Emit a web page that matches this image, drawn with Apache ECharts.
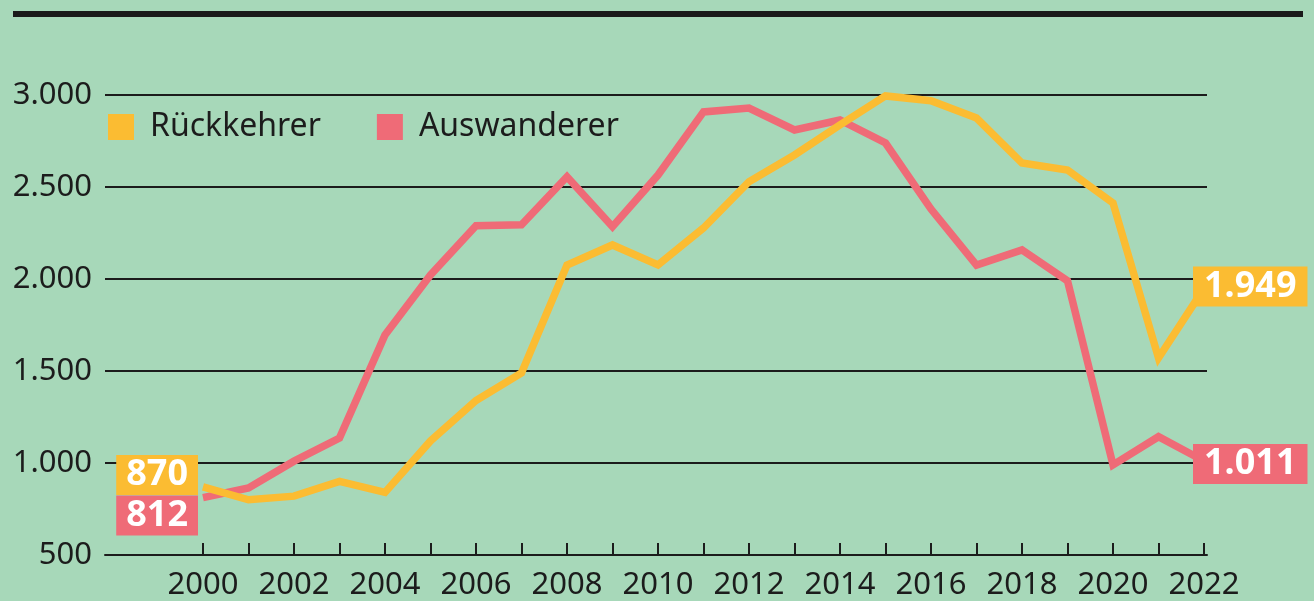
<!DOCTYPE html>
<html>
<head>
<meta charset="utf-8">
<script src="https://cdn.jsdelivr.net/npm/echarts@6/dist/echarts.min.js"></script>
<style>
html,body{margin:0;padding:0;background:#a7d8b9;}
#c{width:1314px;height:601px;}
</style>
</head>
<body>
<div id="c"></div>
<script>
const years = ['2000','2001','2002','2003','2004','2005','2006','2007','2008','2009','2010','2011','2012','2013','2014','2015','2016','2017','2018','2019','2020','2021','2022'];
const rueckkehrer = [870,800,820,900,840,1120,1340,1490,2076,2185,2076,2277,2529,2674,2837,2995,2969,2875,2630,2592,2413,1571,1949];
const auswanderer = [812,864,1010,1136,1696,2022,2290,2295,2556,2284,2565,2908,2929,2810,2864,2739,2380,2076,2158,1990,990,1143,1011];
const yTicks = [500,1000,1500,2000,2500,3000];

const YELLOW = '#fbbc32';
const RED = '#ef6b77';
const BG = '#a7d8b9';
const INK = '#1c1c1c';
const FONT = 'Noto Sans';

function fmt(v){ return String(v).replace(/\B(?=(\d{3})+(?!\d))/g, '.'); }

function endLabel(color, position, offset){
  return {
    show: true, position: position, distance: 5, offset: offset,
    formatter: p => fmt(p.value),
    color: '#fff', fontFamily: FONT, fontWeight: 'bold', fontSize: 36,
    lineHeight: 40, backgroundColor: color, padding: [0, 10, 0, 10]
  };
}

function buildData(arr, color, leftOffset, rightOffset){
  return arr.map((v, i) => {
    if (i === 0) return {value: v, label: endLabel(color, 'left', leftOffset)};
    if (i === arr.length - 1) {
      const l = endLabel(color, 'right', rightOffset);
      l.distance = 0; l.padding = [0, 11, 0, 11];
      return {value: v, label: l};
    }
    return v;
  });
}

const chart = echarts.init(document.getElementById('c'));
chart.setOption({
  backgroundColor: BG,
  animation: false,
  textStyle: {fontFamily: FONT},
  graphic: [{
    type: 'rect', shape: {x: 13, y: 11, width: 1290, height: 6},
    style: {fill: '#1a1a1a'}
  }],
  legend: {
    data: ['Rückkehrer', 'Auswanderer'],
    left: 108, top: 111, padding: 0,
    icon: 'rect', itemWidth: 26, itemHeight: 26, itemGap: 56,
    textStyle: {fontSize: 32, color: INK, fontFamily: FONT, padding: [0, 0, 0, 11]}
  },
  grid: [
    {left: 105, right: 107, top: 95, bottom: 46},
    {left: 203, right: 110, top: 95, bottom: 46}
  ],
  xAxis: [
    {type: 'value', gridIndex: 0, min: 0, max: 1,
     axisLine: {show: true, lineStyle: {color: INK, width: 2}},
     axisTick: {show: false}, axisLabel: {show: false}, splitLine: {show: false}},
    {type: 'category', gridIndex: 1, data: years, boundaryGap: false,
     axisLine: {show: false},
     axisTick: {show: true, inside: true, length: 12, interval: 0, lineStyle: {color: INK, width: 2}},
     axisLabel: {interval: 1, fontSize: 31, color: INK, fontFamily: FONT, margin: 15},
     splitLine: {show: false}}
  ],
  yAxis: [
    {type: 'value', gridIndex: 0, min: 500, max: 3000, interval: 500,
     axisLine: {show: false}, axisTick: {show: false},
     axisLabel: {formatter: v => fmt(v), fontSize: 31, color: INK, fontFamily: FONT, margin: 13},
     splitLine: {show: true, lineStyle: {color: INK, width: 2}}},
    {type: 'value', gridIndex: 1, min: 500, max: 3000, interval: 500, show: false}
  ],
  series: [
    {name: 'Auswanderer', type: 'line', xAxisIndex: 1, yAxisIndex: 1,
     data: buildData(auswanderer, RED, [0, 18], [-11, 3]),
     symbol: 'circle', symbolSize: 0, showSymbol: true, color: RED,
     itemStyle: {color: RED},
     lineStyle: {width: 7.5, color: RED, join: 'miter'}, z: 3},
    {name: 'Rückkehrer', type: 'line', xAxisIndex: 1, yAxisIndex: 1,
     data: buildData(rueckkehrer, YELLOW, [0, -12], [-11, -2]),
     symbol: 'circle', symbolSize: 0, showSymbol: true, color: YELLOW,
     itemStyle: {color: YELLOW},
     lineStyle: {width: 7.5, color: YELLOW, join: 'miter'}, z: 4}
  ]
});
</script>
</body>
</html>
